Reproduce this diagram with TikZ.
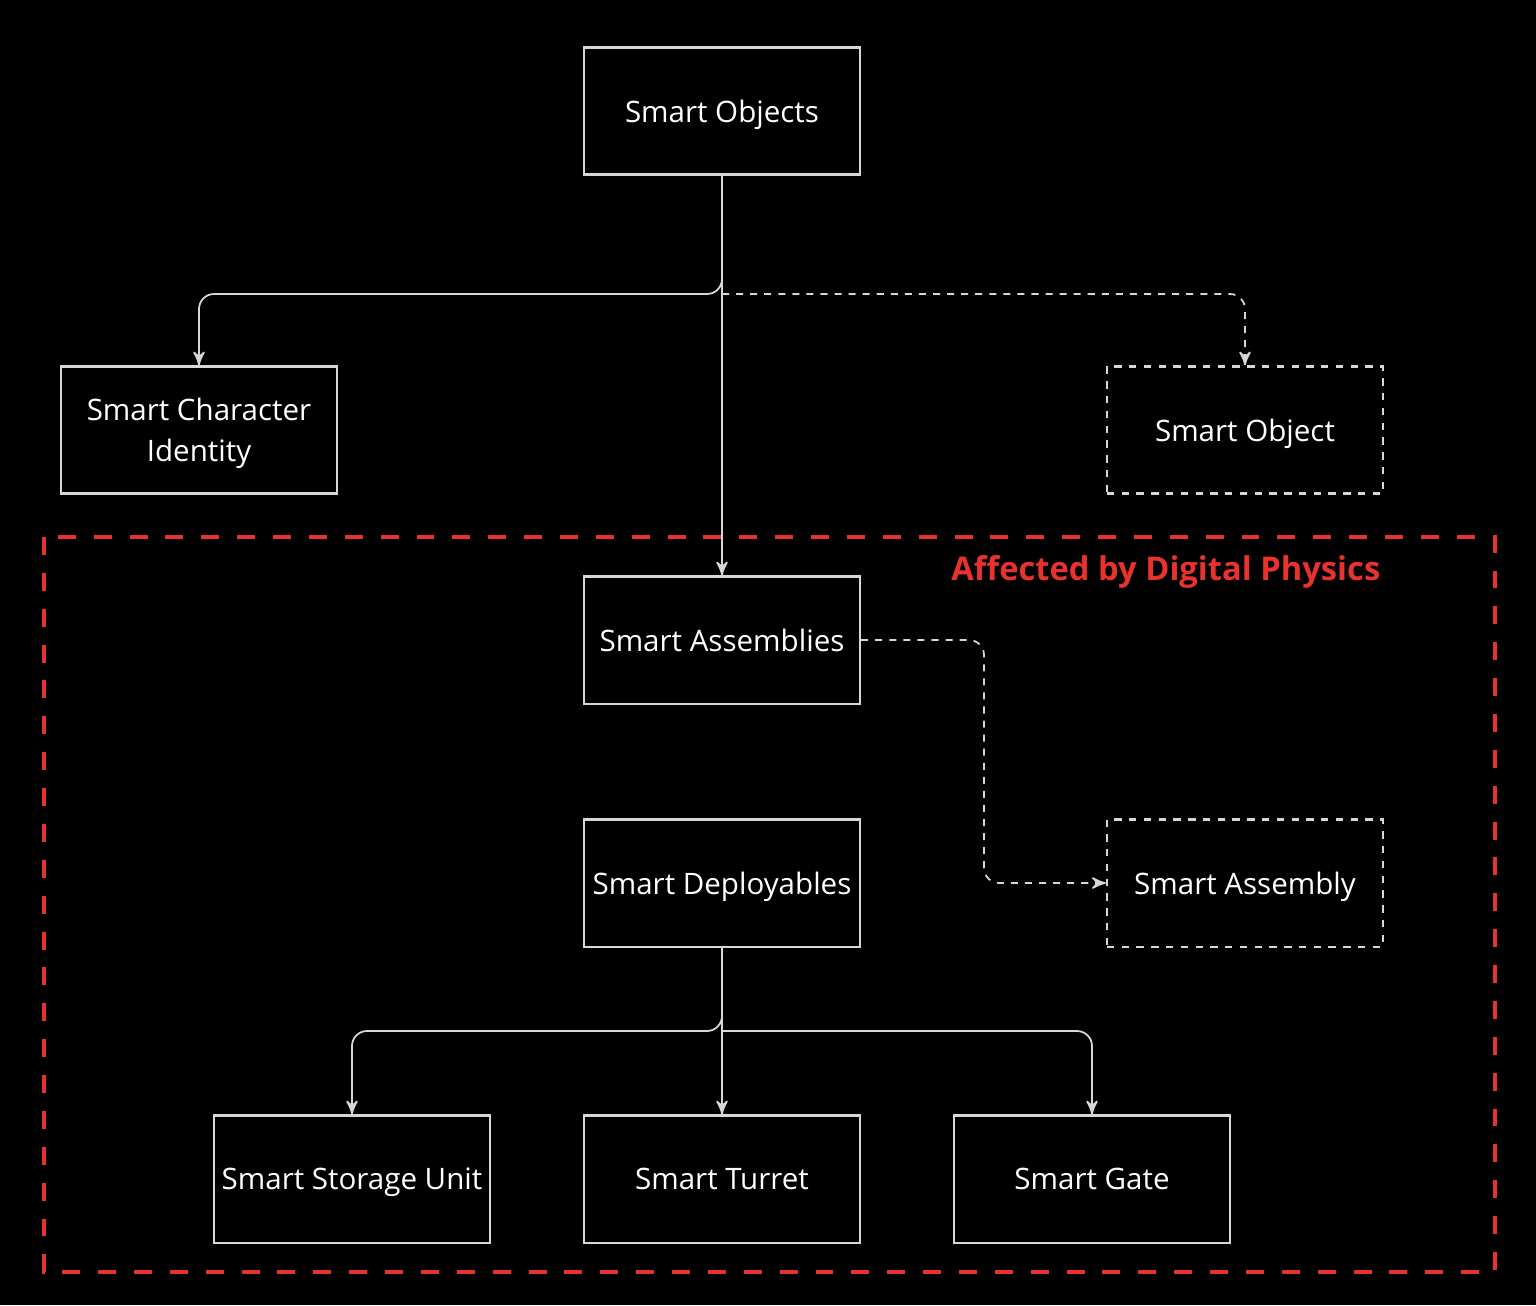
\documentclass[tikz,border=0pt]{standalone}
\usepackage{fontspec}
\setmainfont{Open Sans}
\usetikzlibrary{calc}
\usetikzlibrary{arrows}

\definecolor{linegray}{RGB}{215,215,215}
\definecolor{zonered}{RGB}{232,50,45}

\tikzset{
 box/.style={draw=linegray, line width=.6pt, minimum width=2.76cm, minimum height=1.27cm, text=white, align=center, inner sep=1pt, text depth=0pt, font=\fontsize{8.4}{11.7}\selectfont},
 ghost/.style={box, dashed, dash pattern=on 2.1pt off 2.1pt},
 link/.style={draw=linegray, line width=.5pt, rounded corners=1.5mm, ->, >=stealth'},
 ghostlink/.style={link, dash pattern=on 2pt off 2pt},
}

\begin{document}
\begin{tikzpicture} [x=0.01cm, y=-0.01cm]
\fill[black] (0,0) rectangle (1536,1305);
\useasboundingbox (0,0) rectangle (1536,1305);
% zone
\draw[zonered, line width=1.4pt, dash pattern=on 5.1pt off 5.1pt] (44,537) rectangle (1495,1272);
\node[anchor=base east, text=zonered, font=\fontsize{9.3}{12}\selectfont\bfseries, inner sep=0] (zone) at (1381,580) {Affected by Digital Physics};
% boxes
\node[box]   (objs) at (722,111)  {Smart Objects};
\node[box]   (sci)  at (199,430)  {Smart Character\\Identity};
\node[ghost] (sobj) at (1245,430) {Smart Object};
\node[box]   (asm)  at (722,640)  {Smart Assemblies};
\node[box]   (dep)  at (722,883)  {Smart Deployables};
\node[ghost] (sa)   at (1245,883) {Smart Assembly};
\node[box]   (ssu)  at (352,1179) {Smart Storage Unit};
\node[box]   (tur)  at (722,1179) {Smart Turret};
\node[box]   (gate) at (1092,1179) {Smart Gate};
\coordinate (j1) at (722,294);
\coordinate (j2) at (722,1031);
\coordinate (bend) at (984,640);
% links
\draw[link] (objs) -- (asm);
\draw[link] (objs.south) -- (j1) -| (sci.north);
\draw[ghostlink] (j1) -| (sobj.north);
\draw[ghostlink] (asm.east) -- (bend) |- (sa.west);
\draw[link] (dep) -- (tur);
\draw[link] (dep.south) -- (j2) -| (ssu.north);
\draw[link] (j2) -| (gate.north);
\end{tikzpicture}
\end{document}
